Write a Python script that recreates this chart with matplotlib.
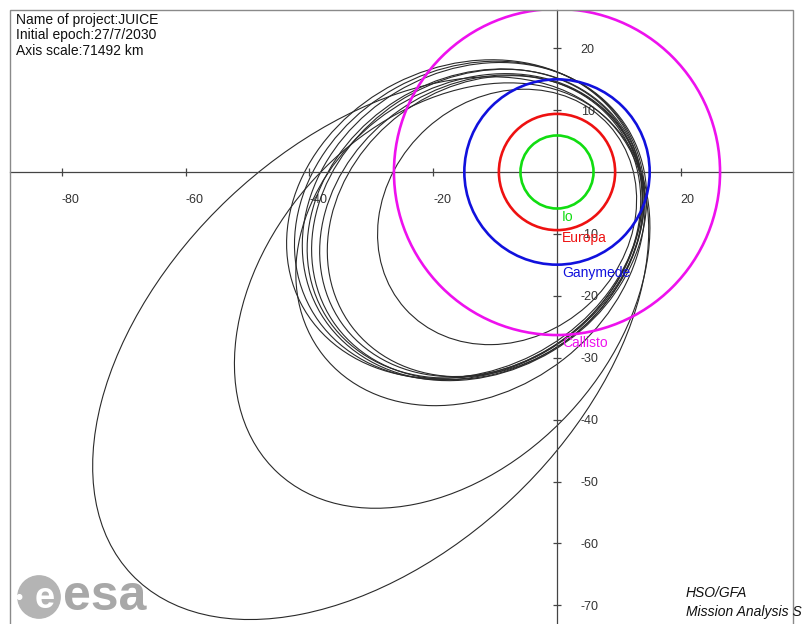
import numpy as np
import matplotlib.pyplot as plt
from matplotlib.patches import Ellipse, Circle, Rectangle

plt.rcParams['font.family'] = ['Liberation Sans', 'DejaVu Sans']
plt.rcParams['axes.unicode_minus'] = False

# moon orbits, radius in Jupiter radii (axis scale 71492 km)
moon_names = ["Io", "Europa", "Ganymede", "Callisto"]
moon_radius = [5.90, 9.39, 14.97, 26.34]
moon_colors = ["#11dd11", "#ee1111", "#1111dd", "#ee11ee"]

# spacecraft orbits (Jupiter at focus): pericentre, apocentre, apse direction in deg
orbit_rp = [11.75, 11.8, 12.5, 11.3, 12.6, 13.2, 12.2, 13.0, 12.4, 13.4, 12.8]
orbit_ra = [94.6, 66.3, 48.0, 33.0, 44.0, 45.5, 42.5, 46.5, 41.5, 44.5, 43.5]
orbit_omega = [43.4, 47.1, 38.0, 42.0, 32.0, 29.0, 35.0, 27.0, 37.0, 31.0, 33.5]

x_ticks = [-80, -60, -40, -20, 20]
y_ticks = [20, 10, -10, -20, -30, -40, -50, -60, -70]

info_lines = ["Name of project:JUICE", "Initial epoch:27/7/2030", "Axis scale:71492 km"]
credit_lines = ["HSO/GFA", "Mission Analysis Section"]

# figure geometry in pixels
W, H = 802, 624
ox, oy, scale = 557, 172, 6.19
left_px, right_px, top_px = 10, 793, 10

fig = plt.figure(figsize=(W / 100, H / 100), dpi=100)
ax = fig.add_axes([left_px / W, 0, (right_px - left_px) / W, (H - top_px) / H])
ax.set_xlim((left_px - ox) / scale, (right_px - ox) / scale)
ax.set_ylim((oy - H) / scale, (oy - top_px) / scale)

# axes through the origin
for side in ["left", "top"]:
    ax.spines[side].set_visible(False)
ax.spines["bottom"].set_position(("data", 0))
ax.spines["right"].set_position(("data", 0))
for side in ["bottom", "right"]:
    ax.spines[side].set_color("#444444")
    ax.spines[side].set_linewidth(0.9)
ax.xaxis.set_ticks_position("bottom")
ax.yaxis.set_ticks_position("right")
ax.set_xticks(x_ticks)
ax.set_yticks(y_ticks)
ax.set_xticklabels([str(t) for t in x_ticks], ha="left")
ax.tick_params(direction="inout", length=6, width=0.9, color="#444444",
               labelcolor="#333333", labelsize=9)
ax.tick_params(axis="x", pad=13)
ax.tick_params(axis="y", pad=14)

# outer frame (bottom edge falls outside the picture)
ax.add_patch(Rectangle((0, -0.1), 1, 1.1, transform=ax.transAxes, fill=False,
                       ec="#8a8a8a", lw=1.0, clip_on=False, zorder=5))

# spacecraft orbits
for rp, ra, om in zip(orbit_rp, orbit_ra, orbit_omega):
    a = (rp + ra) / 2
    c = (ra - rp) / 2
    b = np.sqrt(rp * ra)
    w = np.deg2rad(om)
    ax.add_patch(Ellipse((-c * np.cos(w), -c * np.sin(w)), 2 * a, 2 * b, angle=om,
                         fill=False, ec="#2a2a2a", lw=0.8, zorder=2))

# moon orbits and labels
for name, r, col in zip(moon_names, moon_radius, moon_colors):
    ax.add_patch(Circle((0, 0), r, fill=False, ec=col, lw=1.9, zorder=3))
    ax.text(0.8, -(r + 1.35), name, color=col, fontsize=10, va="center", zorder=4)

# header text
fig.text(16 / W, 1 - 13 / H, "\n".join(info_lines), ha="left", va="top",
         fontsize=10, linespacing=1.12, color="#111111")

# credits bottom right
fig.text(686 / W, 1 - 593 / H, credit_lines[0], style="italic", fontsize=10,
         va="center", color="#111111")
fig.text(686 / W, 1 - 612 / H, credit_lines[1], style="italic", fontsize=10,
         va="center", color="#111111")

# esa logo
logo = fig.add_axes([16 / W, 1 - 620 / H, 46 / W, 46 / H])
logo.set_xlim(-1, 1)
logo.set_ylim(-1, 1)
logo.axis("off")
logo.add_patch(Circle((0, 0), 0.92, color="#b4b4b4"))
logo.add_patch(Circle((-0.85, 0.0), 0.1, color="white"))
logo.text(0.25, -0.05, "e", color="white", fontsize=26, fontweight="bold",
          ha="center", va="center")
fig.text(63 / W, 1 - 610 / H, "esa", fontsize=36, fontweight="bold",
         color="#a8a8a8", ha="left", va="baseline")

fig.savefig("out.png", dpi=100)
